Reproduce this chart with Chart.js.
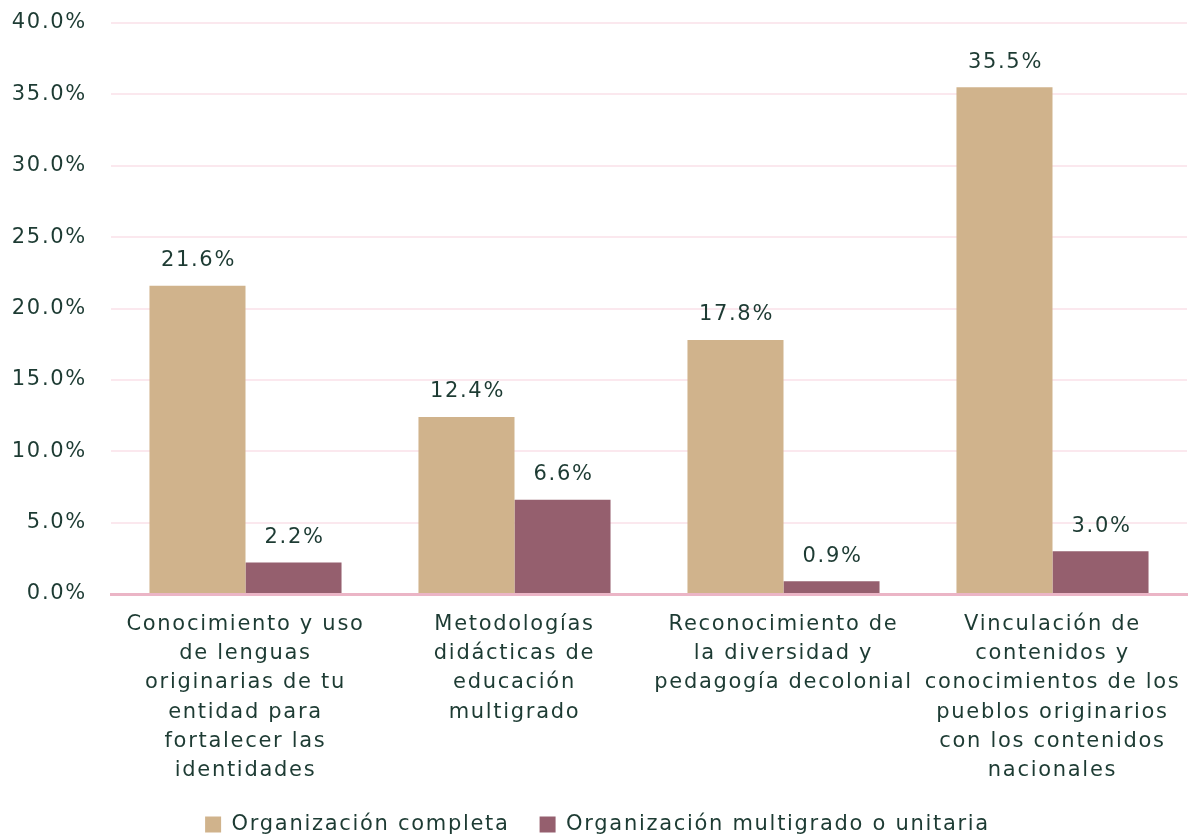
<!DOCTYPE html>
<html><head><meta charset="utf-8">
<script src="https://cdn.jsdelivr.net/npm/chart.js@4/dist/chart.umd.min.js"></script>
<style>html,body{margin:0;padding:0;background:#fff}#wrap{width:1195px;height:837px}</style>
</head><body><div id="wrap"><canvas id="c" width="1195" height="837"></canvas></div>
<script>
const categories = [
  ["Conocimiento y uso","de lenguas","originarias de tu","entidad para","fortalecer las","identidades"],
  ["Metodologías","didácticas de","educación","multigrado"],
  ["Reconocimiento de","la diversidad y","pedagogía decolonial"],
  ["Vinculación de","contenidos y","conocimientos de los","pueblos originarios","con los contenidos","nacionales"]
];
const seriesNames = ["Organización completa","Organización multigrado o unitaria"];
const completa = [21.6, 12.4, 17.8, 35.5];
const multigrado = [2.2, 6.6, 0.9, 3.0];
const yTicks = [0,5,10,15,20,25,30,35,40];

const FONT = "'DejaVu Sans', sans-serif";
const FS = 21;
const TXT = '#1d3b33';
const SPACING = '1.7px';

const spacing = {
  id:'spacing',
  beforeLayout(chart){ chart.ctx.letterSpacing = SPACING; },
  beforeDraw(chart){ chart.ctx.letterSpacing = SPACING; }
};

const valueLabels = {
  id:'valueLabels',
  afterDatasetsDraw(chart){
    const ctx = chart.ctx;
    ctx.save();
    ctx.letterSpacing = SPACING;
    ctx.font = FS + "px " + FONT;
    ctx.fillStyle = TXT;
    ctx.textAlign = 'center';
    ctx.textBaseline = 'middle';
    chart.data.datasets.forEach((ds,i)=>{
      chart.getDatasetMeta(i).data.forEach((bar,j)=>{
        ctx.fillText(ds.data[j].toFixed(1)+'%', bar.x + 1, bar.y-25);
      });
    });
    ctx.restore();
  }
};

new Chart(document.getElementById('c'),{
  type:'bar',
  data:{
    labels:categories,
    datasets:[
      {label:seriesNames[0],data:completa,backgroundColor:'#d0b38c'},
      {label:seriesNames[1],data:multigrado,backgroundColor:'#955f6e'}
    ]
  },
  options:{
    responsive:false,
    animation:false,
    layout:{padding:{top:0,right:8,left:8,bottom:-8}},
    datasets:{bar:{categoryPercentage:0.714,barPercentage:1}},
    scales:{
      x:{
        grid:{display:false},
        border:{display:true,color:'#ebb5c6',width:3},
        ticks:{color:TXT,font:{family:FONT,size:FS,lineHeight:1.39},padding:8,maxRotation:0,autoSkip:false},
        afterFit(s){ s.paddingLeft = 0; s.paddingRight = 0; s.height = 190; }
      },
      y:{
        min:0,max:40,
        afterBuildTicks(s){s.ticks=yTicks.map(v=>({value:v}));},
        grid:{color:'#fbe8ee',lineWidth:2,drawTicks:false},
        border:{display:false},
        ticks:{color:TXT,font:{family:FONT,size:FS},padding:24,callback:v=>v.toFixed(1)+'%'},
        afterFit(s){ s.paddingTop = 23; s.width = 103; }
      }
    },
    plugins:{
      legend:{position:'bottom',labels:{color:TXT,font:{family:FONT,size:FS},boxWidth:16,boxHeight:16,padding:30}},
      tooltip:{enabled:false}
    }
  },
  plugins:[spacing, valueLabels]
});
</script></body></html>
